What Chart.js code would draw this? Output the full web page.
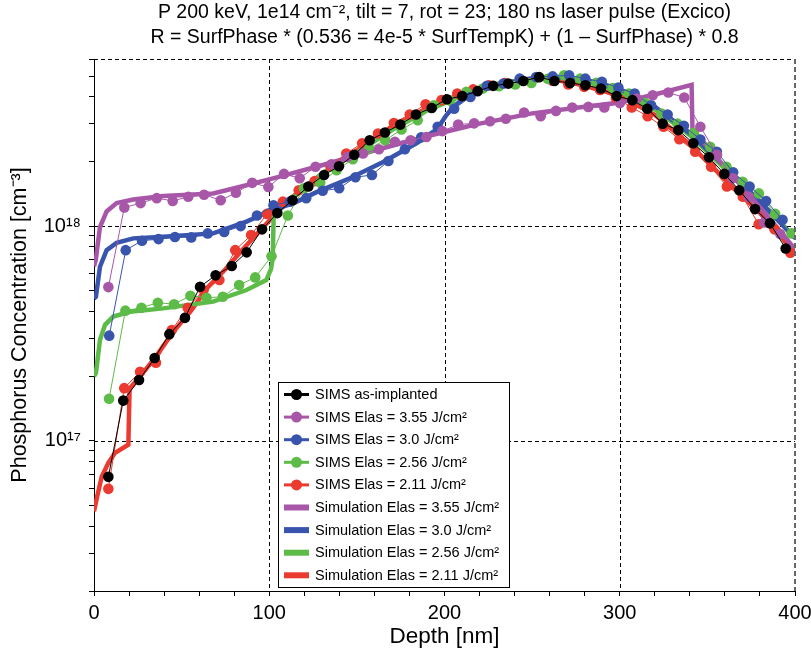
<!DOCTYPE html>
<html>
<head>
<meta charset="utf-8">
<script src="https://cdn.jsdelivr.net/npm/chart.js@4.4.0/dist/chart.umd.min.js"></script>
<style>
html, body { margin: 0; padding: 0; background: #fff; }
#chart { display: block; }
</style>
</head>
<body>
<canvas id="chart" width="811" height="653"></canvas>
<script>
// SIMS profiles (depth in nm, concentration in cm^-3)
var simsImplantDepth = [8.2, 16.7, 25.7, 34.6, 43, 51.9, 60.5, 69.4, 78.6, 87.1, 95.9, 104.6, 113.3, 122.3, 131.3, 139.8, 148.5, 157.3, 166, 174.8, 183.7, 192.7, 201.4, 210.1, 218.9, 227.8, 236.4, 245, 254, 262.7, 271.6, 280.4, 289.3, 298.2, 307.2, 315.7, 324.5, 333.4, 342, 350.9, 359.7, 368.2, 377.2, 385.7, 394.7];
var simsImplantConc = [6.8e16, 1.54e17, 1.92e17, 2.43e17, 3.14e17, 3.74e17, 5.22e17, 5.90e17, 6.52e17, 7.55e17, 9.66e17, 1.15e18, 1.32e18, 1.53e18, 1.73e18, 1.90e18, 2.15e18, 2.51e18, 2.73e18, 2.97e18, 3.31e18, 3.55e18, 3.90e18, 4.03e18, 4.25e18, 4.50e18, 4.61e18, 4.74e18, 4.94e18, 4.74e18, 4.64e18, 4.53e18, 4.37e18, 4.03e18, 3.86e18, 3.52e18, 3.00e18, 2.80e18, 2.43e18, 2.09e18, 1.75e18, 1.47e18, 1.20e18, 1.03e18, 7.87e17];

var sims355Depth = [8.2, 17.3, 26.6, 35.8, 44.9, 53.8, 62.8, 72.3, 81, 90.3, 99.5, 108.4, 117.4, 126.4, 135.5, 144.5, 153.5, 162.6, 171.7, 180.7, 189.7, 198.8, 207.8, 216.9, 226, 235, 245.4, 254.9, 263.6, 272.9, 282.1, 291.2, 300.1, 309.7, 318.8, 327.7, 336.8, 346, 355.5, 364.5, 373.6, 382.5, 391.6];
var sims355Conc = [5.2e17, 1.22e18, 1.28e18, 1.35e18, 1.31e18, 1.37e18, 1.40e18, 1.32e18, 1.43e18, 1.59e18, 1.52e18, 1.75e18, 1.67e18, 1.89e18, 1.94e18, 2.10e18, 2.18e18, 2.28e18, 2.47e18, 2.51e18, 2.60e18, 2.77e18, 2.97e18, 3.01e18, 3.08e18, 3.16e18, 3.38e18, 3.25e18, 3.44e18, 3.57e18, 3.59e18, 3.57e18, 3.74e18, 3.93e18, 4.07e18, 4.19e18, 3.97e18, 2.90e18, 2.15e18, 1.67e18, 1.37e18, 1.04e18, 9.18e17];

var sims300Depth = [8.7, 18.1, 27.4, 36.8, 46.2, 55.5, 64.9, 74.3, 83.7, 93, 102.4, 111.8, 121.1, 130.5, 139.9, 149.2, 158.6, 168, 177.4, 186.7, 196.1, 205.5, 214.8, 224.2, 233.6, 242.9, 252.3, 261.7, 271.1, 280.4, 289.8, 299.2, 308.5, 317.9, 327.3, 336.6, 346, 355.4, 364.7, 374.1, 383.5, 392.9];
var sims300Conc = [3.09e17, 7.73e17, 8.55e17, 8.7e17, 8.9e17, 8.86e17, 9.25e17, 9.4e17, 1.0e18, 1.12e18, 1.25e18, 1.30e18, 1.35e18, 1.46e18, 1.50e18, 1.69e18, 1.73e18, 2.01e18, 2.28e18, 2.59e18, 2.90e18, 3.52e18, 3.99e18, 4.5e18, 4.61e18, 4.86e18, 4.95e18, 4.98e18, 5.04e18, 4.86e18, 4.7e18, 4.42e18, 4.14e18, 3.65e18, 3.31e18, 2.93e18, 2.53e18, 2.22e18, 1.78e18, 1.53e18, 1.31e18, 1.07e18];

var sims256Depth = [8.6, 17.9, 27.1, 36.4, 45.7, 55, 64.2, 73.5, 82.8, 92, 101.3, 110.6, 119.8, 129.1, 138.4, 147.7, 156.9, 166.2, 175.5, 184.7, 194, 203.3, 212.5, 221.8, 231.1, 240.4, 249.6, 258.9, 268.2, 277.4, 286.7, 296, 305.2, 314.5, 323.8, 333, 342.3, 351.6, 360.9, 370.1, 379.4, 388.7, 398];
var sims256Conc = [1.57e17, 4.04e17, 4.17e17, 4.40e17, 4.33e17, 4.74e17, 4.64e17, 4.69e17, 5.32e17, 5.77e17, 7.24e17, 1.12e18, 1.5e18, 1.59e18, 1.82e18, 2.05e18, 2.30e18, 2.51e18, 2.82e18, 3.11e18, 3.65e18, 3.83e18, 4.22e18, 4.37e18, 4.48e18, 4.57e18, 4.64e18, 4.85e18, 5.04e18, 4.86e18, 4.65e18, 4.40e18, 4.14e18, 3.74e18, 3.34e18, 3.0e18, 2.72e18, 2.34e18, 1.89e18, 1.61e18, 1.42e18, 1.14e18, 9.25e17];

var sims211Depth = [8.2, 17.25, 26.3, 35.35, 44.4, 53.45, 62.5, 71.55, 80.6, 89.65, 98.7, 107.75, 116.8, 125.85, 134.9, 143.95, 153, 162.05, 171.1, 180.15, 189.2, 198.25, 207.3, 216.35, 225.4, 234.45, 243.5, 252.55, 261.6, 270.65, 279.7, 288.75, 297.8, 306.85, 315.9, 324.95, 334, 343.05, 352.1, 361.15, 370.2, 379.25, 388.3, 397.35];
var sims211Conc = [5.98e16, 1.76e17, 2.10e17, 2.31e17, 3.28e17, 4.17e17, 5.03e17, 5.61e17, 7.73e17, 9.08e17, 1.14e18, 1.30e18, 1.47e18, 1.62e18, 1.90e18, 2.18e18, 2.43e18, 2.70e18, 3.02e18, 3.31e18, 3.69e18, 3.86e18, 4.14e18, 4.33e18, 4.53e18, 4.64e18, 4.80e18, 4.92e18, 4.75e18, 4.57e18, 4.45e18, 4.30e18, 3.95e18, 3.57e18, 3.25e18, 2.90e18, 2.54e18, 2.22e18, 1.89e18, 1.53e18, 1.37e18, 1.02e18, 9.66e17, 7.52e17];

// simulated profiles
var simu355Depth = [0, 1, 3.4, 7.2, 12.9, 22.4, 39.5, 68, 87, 106, 130, 160, 190, 220, 250, 280, 300, 320, 341, 341.5, 350, 360, 370, 380, 390, 400];
var simu355Conc = [6.5e17, 6.95e17, 9.9e17, 1.17e18, 1.28e18, 1.33e18, 1.38e18, 1.42e18, 1.55e18, 1.70e18, 1.92e18, 2.25e18, 2.62e18, 3.0e18, 3.35e18, 3.6e18, 3.76e18, 4.1e18, 4.55e18, 2.8e18, 2.35e18, 1.88e18, 1.52e18, 1.22e18, 9.8e17, 7.8e17];

var simu300Depth = [0, 1.1, 3.4, 7.2, 12.9, 22.4, 39.5, 68, 87, 102, 114, 127, 146, 165, 184, 195.5, 201, 205, 211, 220, 235, 250, 265, 280, 300, 320, 340, 360, 380, 400];
var simu300Conc = [4.6e17, 4.69e17, 6.47e17, 7.73e17, 8.36e17, 8.77e17, 8.92e17, 9.25e17, 1.05e18, 1.19e18, 1.28e18, 1.44e18, 1.67e18, 1.99e18, 2.43e18, 2.80e18, 3.28e18, 3.59e18, 3.93e18, 4.3e18, 4.65e18, 4.88e18, 4.95e18, 4.8e18, 4.35e18, 3.6e18, 2.7e18, 1.9e18, 1.3e18, 8.8e17];

var simu256Depth = [0, 1.1, 3.4, 6.3, 11, 20.5, 39.5, 68, 87, 98.3, 101, 102, 102.5, 110, 130, 150, 170, 190, 210, 230, 250, 265, 280, 300, 320, 340, 360, 380, 400];
var simu256Conc = [2.0e17, 2.07e17, 2.95e17, 3.47e17, 3.79e17, 3.99e17, 4.14e17, 4.45e17, 5.04e17, 5.61e17, 6.3e17, 7.1e17, 1.1e18, 1.3e18, 1.75e18, 2.2e18, 2.8e18, 3.45e18, 4.05e18, 4.5e18, 4.8e18, 4.95e18, 4.75e18, 4.25e18, 3.5e18, 2.65e18, 1.85e18, 1.3e18, 8.8e17];

var simu211Depth = [0, 2, 4.4, 8.2, 12, 19.6, 20.3, 25.3, 35, 45, 55, 65, 75, 85, 95, 105, 115, 130, 150, 170, 190, 210, 230, 250, 265, 280, 300, 320, 340, 360, 380, 400];
var simu211Conc = [4.7e16, 5.6e16, 6.8e16, 7.9e16, 8.8e16, 9.6e16, 1.75e17, 1.95e17, 2.45e17, 3.2e17, 4.0e17, 5.2e17, 6.3e17, 7.8e17, 9.6e17, 1.17e18, 1.4e18, 1.75e18, 2.25e18, 2.9e18, 3.55e18, 4.1e18, 4.55e18, 4.85e18, 4.85e18, 4.5e18, 4.05e18, 3.3e18, 2.4e18, 1.65e18, 1.15e18, 7.6e17];

// axes
var concTicks = [2e16, 3e16, 4e16, 5e16, 6e16, 7e16, 8e16, 9e16, 1e17, 2e17, 3e17, 4e17, 5e17, 6e17, 7e17, 8e17, 9e17, 1e18, 2e18, 3e18, 4e18, 5e18, 6e18];
var concLabels = { "1e+17": "10\u00b9\u2077", "1e+18": "10\u00b9\u2078" };
var depthGrid = [0, 100, 200, 300];
var concGrid = [1e17, 1e18, 6e18];

var titleLines = [
    "P 200 keV, 1e14 cm\u207b\u00b2, tilt = 7, rot = 23; 180 ns laser pulse (Excico)",
    "R = SurfPhase * (0.536 = 4e-5 * SurfTempK) + (1 \u2013 SurfPhase) * 0.8"
];

var FONT = '"Liberation Sans", Arial, Helvetica, sans-serif';
var cBlack = "#000000", cMagenta = "#a857a8", cBlue = "#3954ad", cGreen = "#5dbb48", cRed = "#eb3a2f";

function pts(xs, ys) {
    return xs.map(function (x, i) { return { x: x, y: ys[i] }; });
}

function simsSet(label, xs, ys, color) {
    return { label: label, data: pts(xs, ys), borderColor: color, backgroundColor: color, borderWidth: 1,
        pointRadius: 5.3, pointBorderWidth: 0, pointBackgroundColor: color, kind: "sims" };
}

function simuSet(label, xs, ys, color) {
    return { label: label, data: pts(xs, ys), borderColor: color, backgroundColor: color, borderWidth: 4.5,
        pointRadius: 0, borderJoinStyle: "miter", kind: "simu" };
}

var datasets = [
    simsSet("SIMS as-implanted", simsImplantDepth, simsImplantConc, cBlack),
    simsSet("SIMS Elas = 3.55 J/cm\u00b2", sims355Depth, sims355Conc, cMagenta),
    simsSet("SIMS Elas = 3.0 J/cm\u00b2", sims300Depth, sims300Conc, cBlue),
    simsSet("SIMS Elas = 2.56 J/cm\u00b2", sims256Depth, sims256Conc, cGreen),
    simsSet("SIMS Elas = 2.11 J/cm\u00b2", sims211Depth, sims211Conc, cRed),
    simuSet("Simulation Elas = 3.55 J/cm\u00b2", simu355Depth, simu355Conc, cMagenta),
    simuSet("Simulation Elas = 3.0 J/cm\u00b2", simu300Depth, simu300Conc, cBlue),
    simuSet("Simulation Elas = 2.56 J/cm\u00b2", simu256Depth, simu256Conc, cGreen),
    simuSet("Simulation Elas = 2.11 J/cm\u00b2", simu211Depth, simu211Conc, cRed)
];

// dashed grid lines behind the data
var gridPlugin = {
    id: "dashGrid",
    beforeDatasetsDraw: function (chart) {
        var ctx = chart.ctx, a = chart.chartArea, xs = chart.scales.x, ys = chart.scales.y;
        ctx.save();
        ctx.strokeStyle = "#000";
        ctx.lineWidth = 1;
        ctx.setLineDash([4, 3]);
        depthGrid.forEach(function (d) {
            var px = Math.round(xs.getPixelForValue(d)) + 0.5;
            ctx.beginPath(); ctx.moveTo(px, a.top); ctx.lineTo(px, a.bottom); ctx.stroke();
        });
        concGrid.forEach(function (c) {
            var py = Math.round(ys.getPixelForValue(c)) + 0.5;
            ctx.beginPath(); ctx.moveTo(a.left, py); ctx.lineTo(a.right, py); ctx.stroke();
        });
        ctx.restore();
    },
    afterDatasetsDraw: function (chart) {
        var ctx = chart.ctx, a = chart.chartArea, xs = chart.scales.x;
        var px = Math.round(xs.getPixelForValue(400));
        ctx.save();
        ctx.strokeStyle = "#666";
        ctx.lineWidth = 2;
        ctx.setLineDash([5, 3]);
        ctx.beginPath(); ctx.moveTo(px, a.top); ctx.lineTo(px, a.bottom); ctx.stroke();
        ctx.restore();
    }
};

// boxed legend inside the plot
var boxLegend = {
    id: "boxLegend",
    afterDraw: function (chart) {
        var ctx = chart.ctx, a = chart.chartArea;
        var left = a.left + 184, top = a.top + 323, w = 231, h = 205, pitch = 22.6;
        ctx.save();
        ctx.fillStyle = "#fff";
        ctx.fillRect(left, top, w, h);
        ctx.strokeStyle = "#000";
        ctx.lineWidth = 1;
        ctx.strokeRect(Math.round(left) + 0.5, Math.round(top) + 0.5, w, h);
        ctx.font = "14.5px " + FONT;
        ctx.textBaseline = "middle";
        ctx.textAlign = "left";
        chart.data.datasets.forEach(function (ds, i) {
            var cy = top + 12.5 + i * pitch;
            var x0 = left + 6, x1 = left + 31;
            ctx.strokeStyle = ds.borderColor;
            ctx.fillStyle = ds.borderColor;
            if (ds.kind === "sims") {
                ctx.lineWidth = 3;
                ctx.beginPath(); ctx.moveTo(x0, cy); ctx.lineTo(x1, cy); ctx.stroke();
                ctx.beginPath(); ctx.arc((x0 + x1) / 2, cy, 5.5, 0, Math.PI * 2); ctx.fill();
            } else {
                ctx.fillRect(x0, cy - 3, x1 - x0, 6);
            }
            ctx.fillStyle = "#000";
            ctx.fillText(ds.label, left + 37, cy + 0.5);
        });
        ctx.restore();
    }
};

new Chart(document.getElementById("chart"), {
    type: "line",
    data: { datasets: datasets },
    plugins: [gridPlugin, boxLegend],
    options: {
        responsive: false,
        animation: false,
        devicePixelRatio: 1,
        layout: { padding: { left: 0, right: 16, top: 0, bottom: 0 } },
        elements: { line: { tension: 0 } },
        plugins: {
            legend: { display: false },
            tooltip: { enabled: false },
            title: {
                display: true,
                fullSize: false,
                text: titleLines,
                color: "#000",
                font: { family: FONT, size: 19.5, weight: "normal", lineHeight: "25px" },
                padding: { top: 0, bottom: 9 }
            }
        },
        scales: {
            x: {
                type: "linear",
                min: 0,
                max: 400,
                afterFit: function (scale) { scale.height = 62; scale.paddingLeft = 0; scale.paddingRight = 0; },
                ticks: {
                    stepSize: 20,
                    autoSkip: false,
                    maxRotation: 0,
                    padding: 5,
                    color: "#000",
                    font: { family: FONT, size: 20 },
                    callback: function (v) { return v % 100 === 0 ? String(v) : ""; }
                },
                grid: { drawOnChartArea: false, drawTicks: true, tickLength: 5, color: "#000", tickColor: "#000" },
                border: { display: true, color: "#000", width: 1 },
                title: { display: true, text: "Depth [nm]", color: "#000", font: { family: FONT, size: 22.5 }, padding: { top: 0, bottom: 3 } }
            },
            y: {
                type: "logarithmic",
                min: 2e16,
                max: 6e18,
                afterBuildTicks: function (scale) {
                    scale.ticks = concTicks.map(function (v) { return { value: v }; });
                },
                afterFit: function (scale) { scale.width = 94; scale.paddingTop = 0; scale.paddingBottom = 0; },
                ticks: {
                    autoSkip: false,
                    padding: 8,
                    color: "#000",
                    font: { family: FONT, size: 20 },
                    callback: function (v) { return concLabels[Number(v).toExponential()] || ""; }
                },
                grid: { drawOnChartArea: false, drawTicks: true, tickLength: 5, color: "#000", tickColor: "#000" },
                border: { display: true, color: "#000", width: 1 },
                title: { display: true, text: "Phosphorus Concentration [cm\u207b\u00b3]", color: "#000", font: { family: FONT, size: 21.5 }, padding: { top: 7, bottom: 0 } }
            }
        }
    }
});
</script>
</body>
</html>
